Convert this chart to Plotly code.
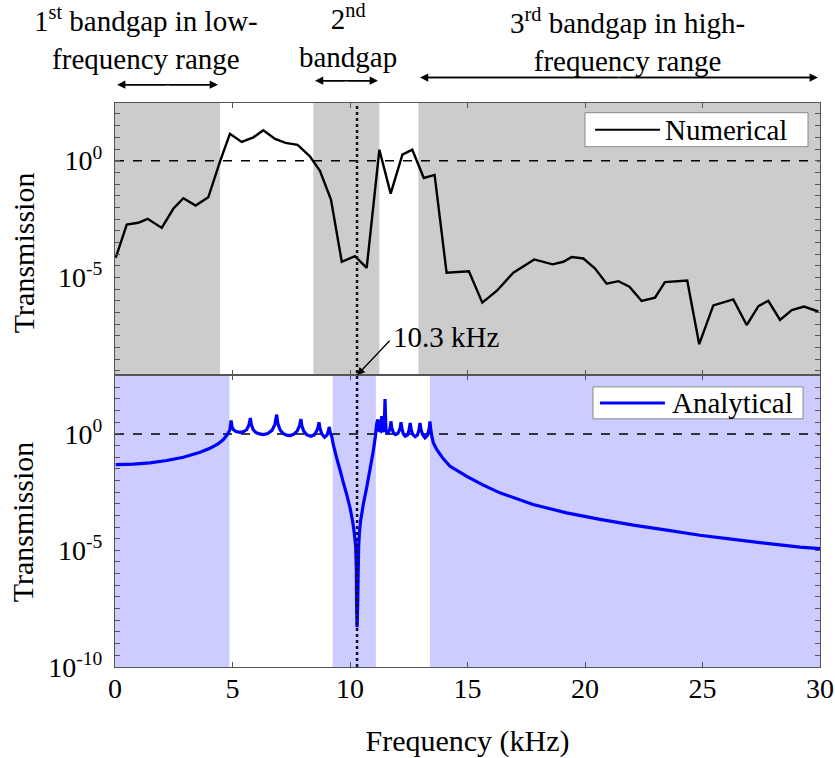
import numpy as np
import plotly.graph_objects as go

# ---------------- data ----------------
# Numerical (simulated) transmission: frequency in kHz, log10(T)
num_freq = [0.03, 0.5, 0.99, 1.39, 1.99, 2.48, 2.91, 3.43, 3.97, 4.47,
            4.89, 5.39, 5.89, 6.31, 6.81, 7.26, 7.77, 8.3, 8.72, 9.19,
            9.65, 10.21, 10.71, 11.25, 11.73, 12.23, 12.65, 13.14, 13.6, 14.11,
            15.06, 15.63, 16.24, 16.95, 17.84, 18.62, 19.08, 19.43, 19.93, 20.43,
            20.92, 21.42, 21.89, 22.41, 22.98, 23.4, 24.35, 24.86, 25.46, 26.31,
            26.88, 27.38, 27.8, 28.3, 28.8, 29.32, 29.93]
num_log10 = [-4.16, -2.74, -2.66, -2.49, -2.88, -2.06, -1.61, -1.92, -1.57, -0.03,
             1.15, 0.80, 1.0, 1.30, 0.93, 0.76, 0.68, 0.18, -0.43, -1.67,
             -4.33, -4.09, -4.59, 0.47, -1.41, 0.26, 0.47, -0.74, -0.61, -4.8,
             -4.74, -6.08, -5.58, -4.8, -4.23, -4.44, -4.33, -4.13, -4.19, -4.62,
             -5.27, -5.16, -5.4, -6.01, -5.87, -5.2, -5.13, -7.86, -6.2, -5.94,
             -7.04, -6.23, -6.0, -6.82, -6.4, -6.25, -6.46]

# Analytical transmission: frequency in kHz, log10(T)
ana_freq = [0.03, 0.78, 1.49, 2.2, 2.91, 3.62, 4.04, 4.4, 4.61, 4.78,
            4.89, 4.94, 4.98, 5.05, 5.15, 5.32, 5.48, 5.6, 5.7, 5.76,
            5.80, 5.88, 6.0, 6.15, 6.31, 6.5, 6.68, 6.8, 6.88, 6.93,
            7.02, 7.15, 7.3, 7.45, 7.6, 7.75, 7.85, 7.91, 7.95, 8.03,
            8.15, 8.33, 8.48, 8.58, 8.64, 8.68, 8.72, 8.8, 8.92, 9.02,
            9.08, 9.12, 9.16, 9.22, 9.29, 9.43, 9.57, 9.72, 9.86, 10.0,
            10.11, 10.18, 10.24, 10.27, 10.28, 10.30, 10.33, 10.35, 10.37, 10.40,
            10.45, 10.57, 10.71, 10.85, 10.99, 11.08, 11.14, 11.19, 11.24, 11.30,
            11.35, 11.40, 11.45, 11.49, 11.53, 11.6, 11.66, 11.71, 11.74, 11.78,
            11.85, 11.93, 12.03, 12.1, 12.14, 12.17, 12.21, 12.27, 12.35, 12.45,
            12.51, 12.56, 12.6, 12.67, 12.77, 12.87, 12.93, 12.98, 13.02, 13.1,
            13.19, 13.28, 13.34, 13.38, 13.40, 13.43, 13.48, 13.55, 13.69, 13.97,
            14.26, 14.97, 15.67, 16.38, 17.79, 19.22, 20.64, 22.06, 23.48, 24.89,
            26.31, 27.73, 29.15, 30.0]
ana_log10 = [-1.32, -1.30, -1.24, -1.14, -1.00, -0.79, -0.62, -0.42, -0.24, -0.03,
             0.18, 0.58, 0.30, 0.17, 0.10, 0.07, 0.10, 0.18, 0.38, 0.68,
             0.40, 0.18, 0.06, 0.0, -0.03, 0.02, 0.15, 0.40, 0.83, 0.45,
             0.18, 0.02, -0.05, -0.07, -0.02, 0.12, 0.35, 0.64, 0.35, 0.12,
             -0.03, -0.10, -0.04, 0.12, 0.28, 0.50, 0.25, 0.0, -0.14, -0.05,
             0.12, 0.30, 0.05, -0.10, -0.46, -1.03, -1.53, -2.10, -2.60, -3.17,
             -3.74, -4.24, -4.82, -5.82, -7.24, -8.30, -7.24, -5.82, -4.82, -4.24,
             -3.74, -3.00, -2.30, -1.53, -0.74, -0.10, 0.47, 0.62, 0.15, 0.12,
             0.76, 0.15, 0.10, 1.50, 0.15, 0.0, 0.12, 0.28, 0.54, 0.25,
             0.05, -0.03, 0.02, 0.15, 0.28, 0.50, 0.22, 0.0, -0.10, -0.04,
             0.15, 0.47, 0.20, -0.02, -0.12, -0.05, 0.15, 0.47, 0.18, -0.05,
             -0.17, -0.08, 0.12, 0.30, 0.54, 0.26, -0.10, -0.39, -0.67, -1.07,
             -1.39, -1.82, -2.20, -2.53, -3.03, -3.39, -3.67, -3.92, -4.13, -4.35,
             -4.53, -4.70, -4.86, -4.93]

# Band gaps (kHz) found by each method
num_gaps = [(0.0, 4.47), (8.44, 11.25), (12.91, 30.0)]
ana_gaps = [(0.0, 4.87), (9.26, 11.1), (13.4, 30.0)]
marked_freq = 10.3

# Axis ticks
x_ticks = [0, 5, 10, 15, 20, 25, 30]
top_labels = {0: "10<sup>0</sup>", -5: "10<sup>-5</sup>"}
bottom_labels = {0: "10<sup>0</sup>", -5: "10<sup>-5</sup>", -10: "10<sup>-10</sup>"}

# ---------------- styling ----------------
FONT = "Liberation Serif"
GRAY = "#cccccc"
LILAC = "#ccccff"
AXIS = "#555555"
SPLIT = 0.5173  # boundary between the two panels (paper coords)

num_T = np.power(10.0, num_log10)
ana_T = np.power(10.0, ana_log10)

fig = go.Figure()

# reference level T = 1
fig.add_trace(go.Scatter(x=[0, 30], y=[1, 1], mode="lines", xaxis="x", yaxis="y",
                         line=dict(color="black", width=1.5, dash="dash"),
                         showlegend=False, hoverinfo="skip"))
fig.add_trace(go.Scatter(x=[0, 30], y=[1, 1], mode="lines", xaxis="x2", yaxis="y2",
                         line=dict(color="black", width=1.5, dash="dash"),
                         showlegend=False, hoverinfo="skip"))

fig.add_trace(go.Scatter(x=num_freq, y=num_T, mode="lines", name="Numerical",
                         xaxis="x", yaxis="y",
                         line=dict(color="black", width=2.4), showlegend=False))
fig.add_trace(go.Scatter(x=ana_freq, y=ana_T, mode="lines", name="Analytical",
                         xaxis="x2", yaxis="y2",
                         line=dict(color="#0000ff", width=3.2, simplify=False),
                         showlegend=False))

shapes = []
for a, b in num_gaps:
    shapes.append(dict(type="rect", xref="x", yref="y domain", x0=a, x1=b, y0=0, y1=1,
                       fillcolor=GRAY, line_width=0, layer="below"))
for a, b in ana_gaps:
    shapes.append(dict(type="rect", xref="x2", yref="y2 domain", x0=a, x1=b, y0=0, y1=1,
                       fillcolor=LILAC, line_width=0, layer="below"))
# marked frequency across both panels
shapes.append(dict(type="line", xref="x2", yref="paper", x0=marked_freq, x1=marked_freq,
                   y0=0, y1=1, line=dict(color="#111122", width=2.5, dash="dot")))

# legend boxes drawn inside each panel
shapes.append(dict(type="rect", xref="x", yref="paper", x0=20.0, x1=29.49,
                   y0=0.9225, y1=0.9828, fillcolor="white",
                   line=dict(color="#888888", width=1)))
shapes.append(dict(type="line", xref="x", yref="paper", x0=20.43, x1=23.19,
                   y0=0.9527, y1=0.9527, line=dict(color="black", width=2)))
shapes.append(dict(type="rect", xref="x2", yref="paper", x0=20.34, x1=29.28,
                   y0=0.44, y1=0.4967, fillcolor="white",
                   line=dict(color="#888888", width=1)))
shapes.append(dict(type="line", xref="x2", yref="paper", x0=20.64, x1=23.4,
                   y0=0.4683, y1=0.4683, line=dict(color="#0000ff", width=3)))

# double-headed arrows under the band gap headings
spans = [(0.09, 4.38, 1.0325), (8.51, 11.19, 1.0396), (12.98, 29.91, 1.045)]
for a, b, yy in spans:
    shapes.append(dict(type="line", xref="x2", yref="paper", x0=a + 0.3, x1=b - 0.3,
                       y0=yy, y1=yy, line=dict(color="black", width=1.5)))

annotations = [
    dict(text="Numerical", xref="x", yref="paper", x=23.3, y=0.9527,
         xanchor="left", yanchor="middle", showarrow=False,
         font=dict(family=FONT, size=29, color="black")),
    dict(text="Analytical", xref="x2", yref="paper", x=23.6, y=0.4683,
         xanchor="left", yanchor="middle", showarrow=False,
         font=dict(family=FONT, size=29, color="black")),
    dict(text="10.3 kHz", xref="x2", yref="paper", x=14.09, y=0.5854,
         xanchor="center", yanchor="middle", showarrow=False,
         font=dict(family=FONT, size=29, color="black")),
    dict(text="", xref="x2", yref="paper", x=marked_freq, y=SPLIT,
         ax=34, ay=-36, axref="pixel", ayref="pixel", showarrow=True,
         arrowhead=2, arrowsize=1.2, arrowwidth=1.3, arrowcolor="black", standoff=0),
    dict(text="Transmission", xref="paper", yref="paper", x=-0.13, y=0.7344,
         textangle=-90, showarrow=False, xanchor="center", yanchor="middle",
         font=dict(family=FONT, size=30, color="black")),
    dict(text="Transmission", xref="paper", yref="paper", x=-0.13, y=0.2572,
         textangle=-90, showarrow=False, xanchor="center", yanchor="middle",
         font=dict(family=FONT, size=30, color="black")),
    # band gap headings
    dict(text="1<sup>st</sup> bandgap in low-<br>frequency range", xref="x2", yref="paper",
         x=1.32, y=1.116, showarrow=False, xanchor="center", yanchor="middle",
         font=dict(family=FONT, size=29, color="black")),
    dict(text="2<sup>nd</sup><br>bandgap", xref="x2", yref="paper",
         x=9.9, y=1.118, showarrow=False, xanchor="center", yanchor="middle",
         font=dict(family=FONT, size=29, color="black")),
    dict(text="3<sup>rd</sup> bandgap in high-<br>frequency range", xref="x2", yref="paper",
         x=21.8, y=1.111, showarrow=False, xanchor="center", yanchor="middle",
         font=dict(family=FONT, size=29, color="black")),
]

# arrowheads at both ends of each span
for a, b, yy in spans:
    mid = (a + b) / 2
    for end in (a, b):
        annotations.append(dict(text="", xref="x2", yref="paper", x=end, y=yy,
                                ax=mid, ay=0, axref="x2", ayref="pixel",
                                showarrow=True, arrowhead=2, arrowsize=1.1,
                                arrowwidth=1.5, arrowcolor="black", standoff=0))


def log_ticks(lo, hi, labels):
    vals, text = [], []
    for k in range(2 * lo, 2 * hi + 1):
        vals.append(10.0 ** (k / 2))
        text.append(labels.get(k / 2, "") if k % 2 == 0 else "")
    return vals, text


tv_top, tt_top = log_ticks(-9, 2, top_labels)
tv_bot, tt_bot = log_ticks(-10, 2, bottom_labels)

axis_common = dict(showline=True, linecolor=AXIS, linewidth=1.2, mirror="ticks",
                   ticks="inside", ticklen=5, tickcolor=AXIS, tickwidth=1,
                   showgrid=False, zeroline=False, automargin=False,
                   tickfont=dict(family=FONT, size=28, color="black"))

fig.update_layout(
    width=835, height=758,
    margin=dict(l=115, r=15, t=103, b=91, autoexpand=False),
    paper_bgcolor="white", plot_bgcolor="white",
    font=dict(family=FONT, color="black"),
    showlegend=False,
    shapes=shapes,
    annotations=annotations,
    xaxis=dict(domain=[0, 1], anchor="y", range=[0, 30], matches="x2",
               tickvals=x_ticks, showticklabels=False, **axis_common),
    yaxis=dict(domain=[SPLIT, 1], anchor="x", type="log", range=[-9.19, 2.47],
               tickvals=tv_top, ticktext=tt_top, ticklabelstandoff=6, **axis_common),
    xaxis2=dict(domain=[0, 1], anchor="y2", range=[0, 30], tickvals=x_ticks,
                ticklabelstandoff=-4,
                title=dict(text="Frequency (kHz)", standoff=30,
                           font=dict(family=FONT, size=30, color="black")),
                **axis_common),
    yaxis2=dict(domain=[0, SPLIT], anchor="x2", type="log", range=[-10.01, 2.52],
                tickvals=tv_bot, ticktext=tt_bot, ticklabelstandoff=6, **axis_common),
)

fig.write_html("out.html")
